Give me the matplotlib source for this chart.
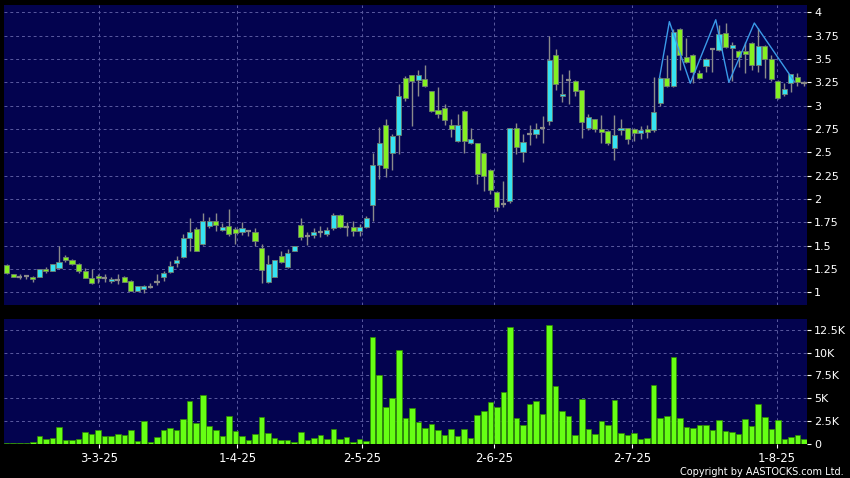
#!/usr/bin/env python3
"""Daily candles with volume, AASTOCKS style (Feb - Aug 2025)."""
import matplotlib
matplotlib.use("Agg")
import matplotlib.pyplot as plt

OPEN = [1.29, 1.20, 1.16, 1.17, 1.165, 1.165, 1.25, 1.23, 1.26, 1.38,
        1.345, 1.30, 1.23, 1.155, 1.175, 1.157, 1.118, 1.136, 1.165, 1.125,
        1.018, 1.032, 1.06, 1.114, 1.16, 1.218, 1.31, 1.378, 1.582, 1.675,
        1.518, 1.71, 1.764, 1.664, 1.71, 1.675, 1.646, 1.657, 1.643, 1.475,
        1.107, 1.168, 1.39, 1.268, 1.443, 1.72, 1.607, 1.618, 1.643, 1.621,
        1.689, 1.832, 1.696, 1.70, 1.657, 1.704, 1.94, 2.364, 2.793, 2.493,
        2.686, 3.296, 3.329, 3.275, 3.286, 3.157, 2.954, 2.975, 2.789, 2.621,
        2.943, 2.60, 2.596, 2.49, 2.311, 2.071, 1.943, 1.982, 2.757, 2.507,
        2.696, 2.696, 2.757, 2.832, 3.543, 3.10, 3.275, 3.264, 3.168, 2.757,
        2.854, 2.75, 2.729, 2.546, 2.739, 2.757, 2.75, 2.707, 2.75, 2.74,
        3.025, 3.30, 3.214, 3.82, 3.525, 3.543, 3.354, 3.429, 3.607, 3.596,
        3.782, 3.614, 3.589, 3.589, 3.675, 3.436, 3.639, 3.50, 3.264, 3.129,
        3.239, 3.311, 3.239]
HIGH = [1.30, 1.20, 1.195, 1.18, 1.17, 1.25, 1.27, 1.30, 1.50, 1.40,
        1.36, 1.31, 1.26, 1.25, 1.195, 1.19, 1.16, 1.19, 1.17, 1.13,
        1.07, 1.075, 1.095, 1.196, 1.23, 1.33, 1.386, 1.625, 1.796, 1.70,
        1.85, 1.81, 1.85, 1.74, 1.893, 1.696, 1.75, 1.66, 1.69, 1.518,
        1.40, 1.35, 1.446, 1.464, 1.50, 1.796, 1.643, 1.689, 1.714, 1.704,
        1.846, 1.84, 1.757, 1.768, 1.732, 1.82, 2.49, 2.768, 2.857, 2.696,
        3.232, 3.32, 3.33, 3.382, 3.439, 3.16, 3.204, 3.018, 2.857, 2.911,
        2.95, 2.757, 2.60, 2.50, 2.32, 2.089, 2.196, 2.76, 2.814, 2.696,
        2.796, 2.814, 2.886, 3.75, 3.607, 3.339, 3.386, 3.27, 3.17, 2.907,
        2.86, 2.90, 2.735, 2.90, 2.857, 2.76, 2.755, 2.786, 2.79, 3.31,
        3.31, 3.543, 3.82, 3.83, 3.729, 3.55, 3.382, 3.51, 3.621, 3.864,
        3.882, 3.686, 3.60, 3.686, 3.68, 3.829, 3.645, 3.543, 3.27, 3.239,
        3.34, 3.346, 3.264]
LOW = [1.20, 1.16, 1.14, 1.14, 1.11, 1.16, 1.21, 1.225, 1.25, 1.32,
       1.295, 1.21, 1.15, 1.09, 1.10, 1.105, 1.10, 1.09, 1.105, 1.01,
       1.01, 0.99, 1.045, 1.08, 1.12, 1.21, 1.275, 1.37, 1.446, 1.44,
       1.51, 1.69, 1.66, 1.654, 1.607, 1.518, 1.618, 1.607, 1.50, 1.096,
       1.10, 1.16, 1.31, 1.26, 1.44, 1.561, 1.507, 1.582, 1.589, 1.604,
       1.668, 1.69, 1.60, 1.607, 1.607, 1.689, 1.768, 2.214, 2.232, 2.311,
       2.482, 3.054, 2.786, 3.107, 3.20, 2.929, 2.868, 2.793, 2.668, 2.61,
       2.489, 2.59, 2.161, 2.089, 2.054, 1.875, 1.911, 1.96, 2.482, 2.40,
       2.579, 2.65, 2.60, 2.793, 3.168, 3.043, 3.018, 3.10, 2.65, 2.743,
       2.721, 2.60, 2.579, 2.421, 2.686, 2.589, 2.625, 2.643, 2.65, 2.72,
       3.0, 3.20, 3.20, 3.382, 3.46, 3.239, 3.282, 3.364, 3.364, 3.59,
       3.62, 3.26, 3.418, 3.346, 3.382, 3.364, 3.293, 3.264, 3.071, 3.107,
       3.143, 3.214, 3.214]
CLOSE = [1.21, 1.165, 1.16, 1.17, 1.14, 1.245, 1.23, 1.30, 1.325, 1.34,
         1.30, 1.225, 1.15, 1.095, 1.15, 1.157, 1.143, 1.136, 1.11, 1.015,
         1.068, 1.07, 1.06, 1.114, 1.21, 1.282, 1.35, 1.582, 1.646, 1.443,
         1.76, 1.764, 1.72, 1.70, 1.625, 1.636, 1.69, 1.657, 1.554, 1.239,
         1.30, 1.346, 1.32, 1.42, 1.496, 1.589, 1.607, 1.65, 1.643, 1.668,
         1.832, 1.696, 1.696, 1.657, 1.70, 1.796, 2.366, 2.60, 2.332, 2.675,
         3.104, 3.079, 3.264, 3.329, 3.21, 2.943, 2.911, 2.846, 2.746, 2.793,
         2.621, 2.643, 2.268, 2.246, 2.096, 1.918, 1.943, 2.757, 2.554, 2.614,
         2.696, 2.75, 2.757, 3.489, 3.229, 3.125, 3.275, 3.157, 2.821, 2.879,
         2.75, 2.714, 2.60, 2.686, 2.757, 2.643, 2.707, 2.736, 2.714, 2.935,
         3.30, 3.21, 3.793, 3.543, 3.471, 3.357, 3.30, 3.50, 3.607, 3.764,
         3.632, 3.65, 3.525, 3.554, 3.436, 3.639, 3.496, 3.286, 3.086, 3.175,
         3.336, 3.257, 3.239]
# volume in thousands
VOLUME = [0.1, 0.1, 0.02, 0.1, 0.2, 0.8, 0.55, 0.66, 1.84, 0.44,
          0.44, 0.55, 1.29, 1.07, 1.47, 0.8, 0.8, 1.03, 0.92, 1.47,
          0.3, 2.5, 0.15, 0.7, 1.47, 1.76, 1.47, 2.72, 4.67, 2.24,
          5.37, 1.91, 1.47, 0.8, 3.0, 1.4, 0.88, 0.37, 1.03, 2.94,
          1.18, 0.66, 0.44, 0.37, 0.15, 1.32, 0.44, 0.66, 0.96, 0.55,
          1.65, 0.55, 0.7, 0.18, 0.5, 0.33, 11.76, 7.54, 3.97, 4.96,
          10.3, 2.8, 3.86, 2.39, 1.73, 2.13, 1.47, 0.99, 1.58, 0.8,
          1.58, 0.62, 3.09, 3.53, 4.56, 3.97, 5.70, 12.8, 2.8, 2.06,
          4.3, 4.67, 3.2, 13.0, 6.32, 3.53, 2.98, 0.99, 4.93, 1.62,
          1.03, 2.5, 1.99, 4.78, 1.21, 0.96, 1.14, 0.51, 0.62, 6.43,
          2.8, 3.0, 9.56, 2.76, 1.8, 1.76, 1.99, 2.06, 1.47, 2.54,
          1.4, 1.25, 1.03, 2.65, 1.91, 4.38, 2.87, 1.58, 2.57, 0.55,
          0.77, 0.92, 0.55]

# zigzag overlay (bar position, price)
ZZ_X = [99.9, 101.4, 104.6, 108.5, 110.5, 114.4, 120.5]
ZZ_Y = [3.30, 3.90, 3.24, 3.92, 3.25, 3.885, 3.26]

DATE_POS = [14.2, 35.3, 54.4, 74.6, 95.7, 117.8]
DATE_LABELS = ["3-3-25", "1-4-25", "2-5-25", "2-6-25", "2-7-25", "1-8-25"]
PRICE_TICKS = [1, 1.25, 1.5, 1.75, 2, 2.25, 2.5, 2.75, 3, 3.25, 3.5, 3.75, 4]
VOL_TICKS = [0, 2.5, 5, 7.5, 10, 12.5]

BG = "#03034f"
GRID = "#5a5aa0"
UP = "#35e3f2"
DOWN = "#84f022"
WICK = "#8a8a8a"
VOL = "#66ff14"


def style_axis(ax):
    ax.set_facecolor(BG)
    for s in ax.spines.values():
        s.set_visible(False)
    ax.yaxis.tick_right()
    ax.tick_params(axis="y", colors="white", labelsize=8, length=3, width=0.8, pad=2)
    ax.tick_params(axis="x", colors="white", labelsize=8.4, length=3, width=0.8, pad=3)
    ax.grid(True, color=GRID, linestyle=(0, (3, 3)), linewidth=0.7)
    ax.set_axisbelow(True)


def main():
    fig = plt.figure(figsize=(8.5, 4.78), dpi=100, facecolor="black")
    ax = fig.add_axes([4 / 850, 1 - 305 / 478, 803 / 850, 300 / 478])
    axv = fig.add_axes([4 / 850, 1 - 443.5 / 478, 803 / 850, 124.5 / 478])
    style_axis(ax)
    style_axis(axv)

    n = len(CLOSE)
    xs = list(range(n))
    w = 0.78
    ax.vlines(xs, LOW, HIGH, color=WICK, linewidth=1.0, zorder=2)
    for i in xs:
        o, c = OPEN[i], CLOSE[i]
        if abs(c - o) < 1e-6:
            ax.hlines(o, i - w / 2, i + w / 2, color=WICK, linewidth=1.6, zorder=3)
            continue
        color = UP if c > o else DOWN
        ax.bar(i, c - o, bottom=o, width=w, color=color, edgecolor="#6f7f70",
               linewidth=0.6, zorder=3)
    ax.plot(ZZ_X, ZZ_Y, color="#3a9ae8", linewidth=1.0, zorder=4)

    axv.bar(xs, VOLUME, width=0.85, color=VOL, edgecolor="#2f8a00", linewidth=0.5, zorder=3)

    ax.set_xlim(-0.41, 122.46)
    axv.set_xlim(-0.41, 122.46)
    ax.set_ylim(0.863, 4.078)
    axv.set_ylim(0, 13.7)

    ax.set_yticks(PRICE_TICKS)
    ax.set_yticklabels([f"{t:g}" for t in PRICE_TICKS])
    ax.set_xticks(DATE_POS)
    ax.tick_params(axis="x", length=0, labelbottom=False)

    axv.set_yticks(VOL_TICKS)
    axv.set_yticklabels(["0" if t == 0 else f"{t:g}K" for t in VOL_TICKS])
    axv.set_xticks(DATE_POS)
    axv.set_xticklabels(DATE_LABELS)

    fig.text(0.993, 0.002, "Copyright by AASTOCKS.com Ltd.", color="white",
             fontsize=7, ha="right", va="bottom")

    fig.savefig("out.png", dpi=100, facecolor="black")
    plt.close(fig)


if __name__ == "__main__":
    main()
